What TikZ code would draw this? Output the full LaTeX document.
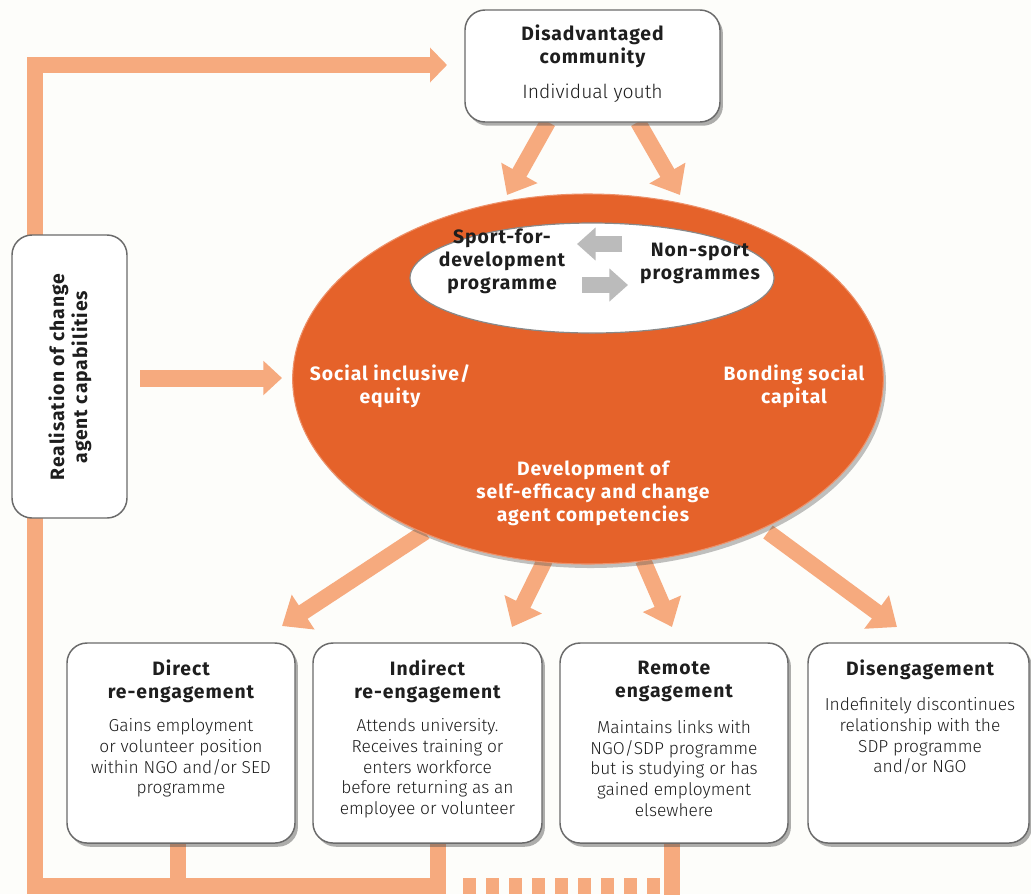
\documentclass[tikz,border=0pt]{standalone}
\usepackage{fontspec}
\setmainfont{Fira Sans}
\newfontfamily\titlefont{Fira Sans}[LetterSpace=5]
\newfontfamily\bodyfont{Fira Sans Light}
\usetikzlibrary{arrows.meta,shadows,shapes.geometric}
\definecolor{bg}{HTML}{FDFDFA}
\definecolor{lineor}{HTML}{F6AA7E}
\definecolor{ellor}{HTML}{E5622A}
\definecolor{boxdraw}{HTML}{6A6A6A}
\definecolor{garrow}{HTML}{BBBBBB}
\definecolor{txt}{HTML}{1E1E1E}
\tikzset{
  card/.style={draw=boxdraw, line width=1.1pt, fill=white, rounded corners=15pt, inner sep=0pt,
    drop shadow={shadow xshift=2.2pt, shadow yshift=-2.8pt, opacity=0.45, fill=black!70}},
  flatcard/.style={draw=boxdraw, line width=1.1pt, fill=white, rounded corners=15pt, inner sep=0pt},
  bigarr/.style={draw=lineor, line width=12pt, -{Triangle[width=30pt,length=19pt]}},
  feed/.style={draw=lineor, line width=12pt, line join=miter},
  garr/.style={draw=garrow, line width=11.5pt, -{Triangle[width=24pt,length=14pt]}},
  ttl/.style={font=\fontsize{14.5}{17.25}\selectfont\titlefont\bfseries, text=txt, align=center, inner sep=0pt},
  body/.style={font=\fontsize{13}{15.5}\selectfont\bodyfont, text=txt, align=center, inner sep=0pt},
  wtxt/.style={ttl, text=white},
}
\begin{document}
\begin{tikzpicture}[x=0.75pt, y=-0.75pt]
\path[use as bounding box, fill=bg] (0,0) rectangle (1031,894);
\clip (0,0) rectangle (1031,894);

% feedback lines
\coordinate (fbA) at (438,843);
\coordinate (fbB) at (438,886);
\coordinate (fbC) at (35,886);
\coordinate (fbD) at (35,65);
\coordinate (fbT) at (447,65);
\coordinate (fbE) at (178,843);
\coordinate (fbF) at (178,886);
\coordinate (fbG) at (672,843);
\coordinate (fbH) at (672,900);
\coordinate (fbI) at (660,886);
\coordinate (fbJ) at (454,886);
\draw[feed, -{Triangle[width=25.5pt,length=12.75pt]}] (fbA) -- (fbB) -- (fbC) -- (fbD) -- (fbT);
\draw[feed] (fbE) -- (fbF);
\draw[feed] (fbG) -- (fbH);
\draw[draw=lineor, line width=12pt, dash pattern=on 9.75pt off 7.5pt] (fbI) -- (fbJ);

% left box
\node[flatcard, minimum width=86.25pt, minimum height=212.25pt] (left) at (69.5,376.5) {};
\node[ttl, rotate=90] (lefttxt) at (70,377) {Realisation of change\\agent capabilities};

% bottom boxes
\node[card, minimum width=171pt, minimum height=150pt] (b1) at (181,743) {};
\node[card, minimum width=171.75pt, minimum height=150pt] (b2) at (427.5,743) {};
\node[card, minimum width=171pt, minimum height=150pt] (b3) at (674,743) {};
\node[card, minimum width=165.75pt, minimum height=150pt] (b4) at (918.5,743) {};

\node[ttl] (b1t) at (181,681.5) {Direct\\re-engagement};
\node[body] (b1b) at (181,758) {Gains employment\\or volunteer position\\within NGO and/or SED\\programme};
\node[ttl] (b2t) at (427.5,681.5) {Indirect\\re-engagement};
\node[body] (b2b) at (427.5,768.5) {Attends university.\\Receives training or\\enters workforce\\before returning as an\\employee or volunteer};
\node[ttl] (b3t) at (674,681.5) {Remote\\engagement};
\node[body] (b3b) at (674,768.5) {Maintains links with\\NGO/SDP programme\\but is studying or has\\gained employment\\elsewhere};
\node[ttl] (b4t) at (920,670) {Disengagement};
\node[body] (b4b) at (920,736) {Indefinitely discontinues\\relationship with the\\SDP programme\\and/or NGO};

% arrows from ellipse to boxes (under ellipse)
\coordinate (e1) at (425,532);
\coordinate (e2) at (545,560);
\coordinate (e3) at (643,560);
\coordinate (e4) at (768,532);
\coordinate (t1) at (282,626);
\coordinate (t2) at (512,627);
\coordinate (t3) at (672,627);
\coordinate (t4) at (897,627);
\draw[bigarr] (e1) -- (t1);
\draw[bigarr] (e2) -- (t2);
\draw[bigarr] (e3) -- (t3);
\draw[bigarr] (e4) -- (t4);

% main ellipse
\node[ellipse, fill=ellor, draw=ellor!70!white, line width=0.8pt, inner sep=0pt,
  minimum width=443pt, minimum height=277.5pt,
  drop shadow={shadow xshift=2pt, shadow yshift=-3pt, opacity=0.35, fill=black!70}] (ell) at (588,379) {};
\node[ellipse, fill=white, draw=boxdraw!80, line width=0.9pt, inner sep=0pt,
  minimum width=273pt, minimum height=82.5pt] (inner) at (592,278) {};

\node[ttl] (sfd) at (502,261) {Sport-for-\\development\\programme};
\node[ttl] (nsp) at (700,263.5) {Non-sport\\programmes};
\coordinate (g1s) at (622,244);
\coordinate (g1e) at (577,244);
\coordinate (g2s) at (582,285);
\coordinate (g2e) at (628,285);
\draw[garr] (g1s) -- (g1e);
\draw[garr] (g2s) -- (g2e);

\node[wtxt] (soc) at (390,386.5) {Social inclusive/\\equity};
\node[wtxt] (bond) at (794,386.5) {Bonding social\\capital};
\node[wtxt] (dev) at (593,493) {Development of\\self-efficacy and change\\agent competencies};

% arrows from top box to ellipse
\coordinate (a1) at (548,122);
\coordinate (a2) at (638,122);
\coordinate (a1t) at (507,195);
\coordinate (a2t) at (680,195);
\draw[bigarr] (a1) -- (a1t);
\draw[bigarr] (a2) -- (a2t);

% top box
\node[card, minimum width=191.25pt, minimum height=84pt] (top) at (592.5,66) {};
\node[ttl] (toptitle) at (592.5,46) {Disadvantaged\\community};
\node[body, font=\fontsize{14.5}{17}\selectfont\bodyfont] (topsub) at (592.5,93) {Individual youth};

% left arrow into ellipse
\coordinate (la) at (140,378);
\coordinate (lat) at (282,378);
\draw[draw=lineor, line width=12.75pt, -{Triangle[width=25pt,length=14pt]}] (la) -- (lat);
\end{tikzpicture}
\end{document}
